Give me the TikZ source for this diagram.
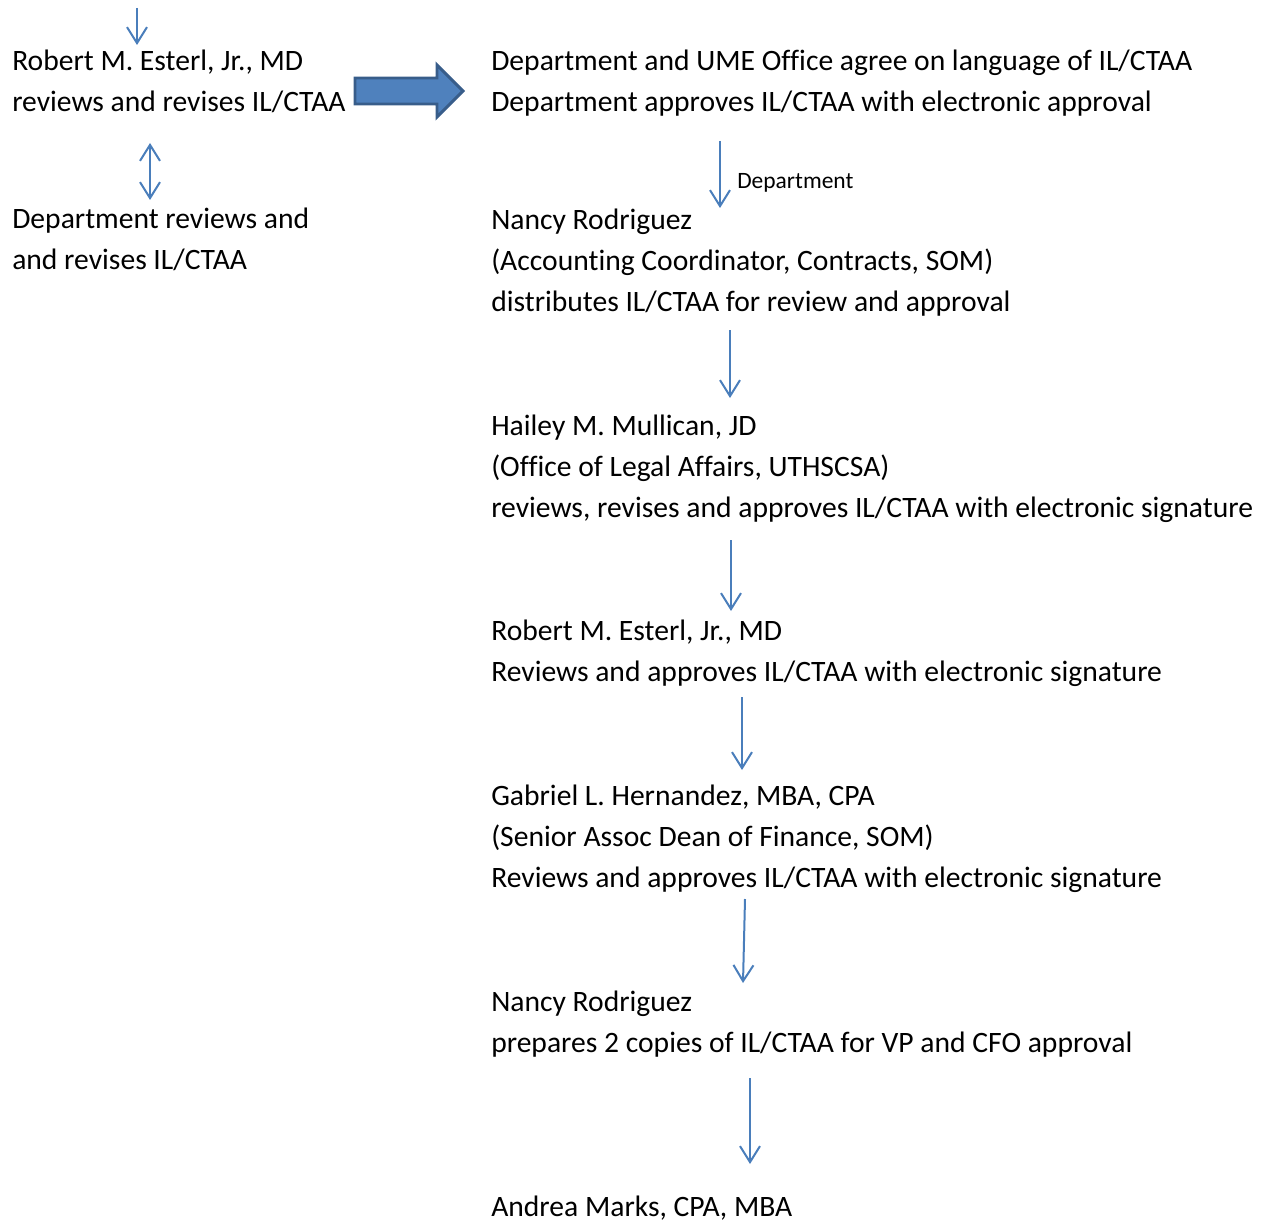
\documentclass[tikz,border=0pt]{standalone}
\usepackage{fontspec}
\setmainfont{Carlito}[Ligatures=NoCommon]
\usetikzlibrary{arrows.meta}
\definecolor{lineblue}{HTML}{4A7EBB}
\definecolor{fillblue}{HTML}{4F81BD}
\definecolor{edgeblue}{HTML}{385D8A}
\begin{document}
\begin{tikzpicture}[x=0.75pt,y=-0.75pt,
  txt/.style={anchor=base west,inner sep=0pt,align=left,font=\fontsize{22.2}{30.75}\selectfont},
  lbl/.style={anchor=base west,inner sep=0pt,font=\fontsize{17.6}{20}\selectfont},
  arr/.style={draw=lineblue,line width=1.5pt,-{Straight Barb[length=12pt,width=15pt,line width=1.5pt]}},
  darr/.style={draw=lineblue,line width=1.5pt,{Straight Barb[length=12pt,width=15pt,line width=1.5pt]}-{Straight Barb[length=12pt,width=15pt,line width=1.5pt]}},
  blockarr/.style={fill=fillblue,draw=edgeblue,line width=2.2pt,line join=miter}]
\useasboundingbox (0,0) rectangle (1264,1220);

% left column (positioned at the baseline of the last line)
\node[txt] (esterlA) at (12,112) {Robert M. Esterl, Jr., MD\\reviews and revises IL/CTAA};
\node[txt] (deptL) at (12,269) {Department reviews and\\and revises IL/CTAA};

% right column
\node[txt] (agree) at (491,112) {Department and UME Office agree on language of IL/CTAA\\Department approves IL/CTAA with electronic approval};
\node[txt] (nancyA) at (491,311) {Nancy Rodriguez\\(Accounting Coordinator, Contracts, SOM)\\distributes IL/CTAA for review and approval};
\node[txt] (hailey) at (491,517) {Hailey M. Mullican, JD\\(Office of Legal Affairs, UTHSCSA)\\reviews, revises and approves IL/CTAA with electronic signature};
\node[txt] (esterlB) at (491,681) {Robert M. Esterl, Jr., MD\\Reviews and approves IL/CTAA with electronic signature};
\node[txt] (gabriel) at (491,887) {Gabriel L. Hernandez, MBA, CPA\\(Senior Assoc Dean of Finance, SOM)\\Reviews and approves IL/CTAA with electronic signature};
\node[txt] (nancyB) at (491,1052) {Nancy Rodriguez\\prepares 2 copies of IL/CTAA for VP and CFO approval};
\node[txt] (andrea) at (491,1216) {Andrea Marks, CPA, MBA};

% connector end points
\coordinate (inT) at (137,8);   \coordinate (inB) at (137,45);
\coordinate (dT) at (150,143);  \coordinate (dB) at (150,200);
\coordinate (bA) at (355,91);
\coordinate (a1T) at (720,141); \coordinate (a1B) at (720,208);
\coordinate (a2T) at (730,330); \coordinate (a2B) at (730,398);
\coordinate (a3T) at (731,540); \coordinate (a3B) at (731,611);
\coordinate (a4T) at (742,697); \coordinate (a4B) at (742,770);
\coordinate (a5T) at (745,899); \coordinate (a5B) at (743,983);
\coordinate (a6T) at (750,1078);\coordinate (a6B) at (750,1164);

\draw[arr] (inT) -- (inB);
\draw[darr] (dT) -- (dB);
\draw[blockarr] (bA) ++(0,-13) -- ++(82,0) -- ++(0,-13) -- ++(26,26) -- ++(-26,26) -- ++(0,-13) -- ++(-82,0) -- cycle;
\draw[arr] (a1T) -- (a1B);
\node[lbl] (deptlbl) at (737,189) {Department};
\draw[arr] (a2T) -- (a2B);
\draw[arr] (a3T) -- (a3B);
\draw[arr] (a4T) -- (a4B);
\draw[arr] (a5T) -- (a5B);
\draw[arr] (a6T) -- (a6B);
\end{tikzpicture}
\end{document}
